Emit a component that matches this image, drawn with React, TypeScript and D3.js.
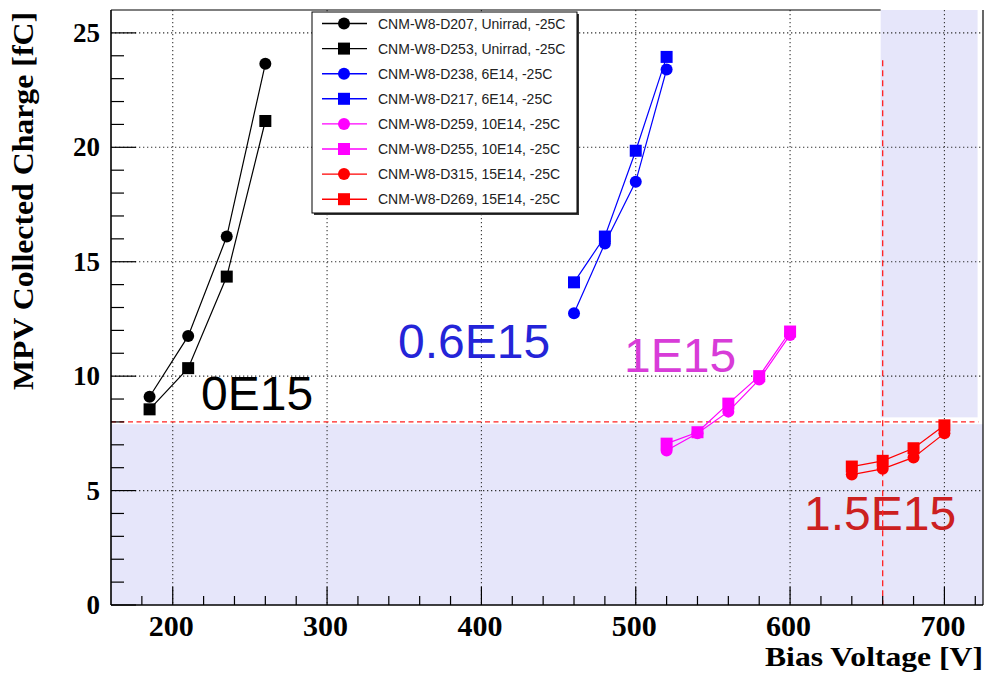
import React from "react";
import * as d3 from "d3";

// Bias voltage points (V) for each fluence group
const voltsUnirrad = [185, 210, 235, 260];
const volts6E14 = [460, 480, 500, 520];
const volts10E14 = [520, 540, 560, 580, 600];
const volts15E14 = [640, 660, 680, 700];

// MPV collected charge (fC) per sensor
const chargeD207 = [9.1, 11.75, 16.1, 23.65];
const chargeD253 = [8.55, 10.35, 14.35, 21.15];
const chargeD238 = [12.75, 15.8, 18.5, 23.4];
const chargeD217 = [14.1, 16.1, 19.85, 23.95];
const chargeD259 = [6.75, 7.5, 8.45, 9.85, 11.8];
const chargeD255 = [7.05, 7.55, 8.8, 10.0, 11.95];
const chargeD315 = [5.7, 5.95, 6.45, 7.5];
const chargeD269 = [6.05, 6.3, 6.85, 7.85];

const legendNames = [
  "CNM-W8-D207, Unirrad, -25C",
  "CNM-W8-D253, Unirrad, -25C",
  "CNM-W8-D238, 6E14, -25C",
  "CNM-W8-D217, 6E14, -25C",
  "CNM-W8-D259, 10E14, -25C",
  "CNM-W8-D255, 10E14, -25C",
  "CNM-W8-D315, 15E14, -25C",
  "CNM-W8-D269, 15E14, -25C",
];

const xTicks = [200, 300, 400, 500, 600, 700];
const yTicks = [0, 5, 10, 15, 20, 25];

// Thresholds: 8 fC charge requirement and 660 V bias limit
const chargeThreshold = 8;
const voltageLimit = 660;

// Fluence labels placed in data coordinates (V, fC) at their baseline start
const fluenceLabels = [
  { text: "0E15", v: 218.3, q: 8.52, color: "#000000" },
  { text: "0.6E15", v: 346, q: 10.8, color: "#2424d8" },
  { text: "1E15", v: 492.4, q: 10.18, color: "#d83cd8" },
  { text: "1.5E15", v: 609, q: 3.28, color: "#cc2020" },
];

type Series = {
  name: string;
  xs: number[];
  ys: number[];
  color: string;
  marker: "circle" | "square";
};

const series: Series[] = [
  { name: legendNames[0], xs: voltsUnirrad, ys: chargeD207, color: "#000000", marker: "circle" },
  { name: legendNames[1], xs: voltsUnirrad, ys: chargeD253, color: "#000000", marker: "square" },
  { name: legendNames[2], xs: volts6E14, ys: chargeD238, color: "#0000ff", marker: "circle" },
  { name: legendNames[3], xs: volts6E14, ys: chargeD217, color: "#0000ff", marker: "square" },
  { name: legendNames[4], xs: volts10E14, ys: chargeD259, color: "#ff00ff", marker: "circle" },
  { name: legendNames[5], xs: volts10E14, ys: chargeD255, color: "#ff00ff", marker: "square" },
  { name: legendNames[6], xs: volts15E14, ys: chargeD315, color: "#ff0000", marker: "circle" },
  { name: legendNames[7], xs: volts15E14, ys: chargeD269, color: "#ff0000", marker: "square" },
];

const W = 986;
const H = 675;
const L = 111;
const R = 983;
const T = 10;
const B = 605;

const x = d3.scaleLinear().domain([160, 725]).range([L, R]);
const y = d3.scaleLinear().domain([0, 26]).range([B, T]);

const serif = "'Liberation Serif', 'Times New Roman', serif";
const sans = "'Liberation Sans', Arial, Helvetica, sans-serif";
const shade = "#e6e6fa";

function Marker({ cx, cy, kind, color }: { cx: number; cy: number; kind: string; color: string }) {
  if (kind === "circle") return <circle cx={cx} cy={cy} r={6} fill={color} />;
  return <rect x={cx - 6} y={cy - 6} width={12} height={12} fill={color} />;
}

export default function App() {
  const line = d3
    .line<[number, number]>()
    .x((d) => x(d[0]))
    .y((d) => y(d[1]));

  const minorX = d3.range(180, 725, 20).filter((v) => v % 100 !== 0);
  const minorY = d3.range(1, 26, 1).filter((v) => v % 5 !== 0);

  const legX = 312;
  const legY = 12;
  const legW = 265;
  const legH = 201;
  const rowH = 25.1;

  return (
    <svg
      width={W}
      height={H}
      viewBox={`0 0 ${W} ${H}`}
      style={{ position: "absolute", left: 0, top: 0, background: "#fff" }}
    >
      <rect x={0} y={0} width={W} height={H} fill="#fff" />

      {/* excluded regions */}
      <rect x={L} y={y(7.9)} width={R - L} height={B - y(7.9)} fill={shade} />
      <rect
        x={x(voltageLimit) - 2}
        y={T}
        width={x(721.5) - x(voltageLimit) + 2}
        height={y(8.2) - T}
        fill={shade}
      />

      {/* grid */}
      <g stroke="#333" strokeWidth={1.1} strokeDasharray="1.3 2.7">
        {xTicks.map((v) => (
          <line key={"gx" + v} x1={x(v)} x2={x(v)} y1={T} y2={B} />
        ))}
        {yTicks
          .filter((v) => v > 0)
          .map((v) => (
            <line key={"gy" + v} x1={L} x2={R} y1={y(v)} y2={y(v)} />
          ))}
      </g>

      {/* fluence annotations */}
      {fluenceLabels.map((l) => (
        <text
          key={l.text}
          x={x(l.v)}
          y={y(l.q)}
          fill={l.color}
          fontFamily={sans}
          fontSize={48}
        >
          {l.text}
        </text>
      ))}

      {/* threshold lines */}
      <line
        x1={L}
        x2={x(722)}
        y1={y(chargeThreshold)}
        y2={y(chargeThreshold)}
        stroke="#ff2020"
        strokeWidth={1.3}
        strokeDasharray="5 3.5"
      />
      <line
        x1={x(voltageLimit)}
        x2={x(voltageLimit)}
        y1={y(23.8)}
        y2={B}
        stroke="#ff2020"
        strokeWidth={1.3}
        strokeDasharray="6 4"
      />

      {/* frame and axes */}
      <g stroke="#000" fill="none">
        <line x1={L} x2={x(voltageLimit) - 2} y1={T} y2={T} strokeWidth={1.2} />
        <line x1={R} x2={R} y1={T} y2={B} strokeWidth={1.2} />
        <line x1={L} x2={R} y1={B} y2={B} strokeWidth={1.6} />
        <line x1={L} x2={L} y1={T} y2={B} strokeWidth={1.6} />
        {xTicks.map((v) => (
          <line key={"tx" + v} x1={x(v)} x2={x(v)} y1={B} y2={B - 18} strokeWidth={1.2} />
        ))}
        {minorX.map((v) => (
          <line key={"mx" + v} x1={x(v)} x2={x(v)} y1={B} y2={B - 9} strokeWidth={1.2} />
        ))}
        {yTicks.map((v) => (
          <line key={"ty" + v} x1={L} x2={L + 25} y1={y(v)} y2={y(v)} strokeWidth={1.2} />
        ))}
        {minorY.map((v) => (
          <line key={"my" + v} x1={L} x2={L + 13} y1={y(v)} y2={y(v)} strokeWidth={1.2} />
        ))}
      </g>

      {/* tick labels */}
      <g fontFamily={serif} fontWeight="bold" fill="#000">
        {xTicks.map((v) => (
          <text key={"lx" + v} x={x(v) - 1.5} y={636} fontSize={30} textAnchor="middle">
            {v}
          </text>
        ))}
        {yTicks.map((v) => (
          <text key={"ly" + v} x={100} y={y(v) + 9} fontSize={27} textAnchor="end">
            {v}
          </text>
        ))}
        <text
          x={983}
          y={666}
          fontSize={28}
          textAnchor="end"
          textLength={218}
          lengthAdjust="spacingAndGlyphs"
        >
          Bias Voltage [V]
        </text>
        <text
          transform={`translate(33, 201) rotate(-90)`}
          fontSize={30}
          textAnchor="middle"
          textLength={378}
          lengthAdjust="spacingAndGlyphs"
        >
          MPV Collected Charge [fC]
        </text>
      </g>

      {/* data */}
      {series.map((s) => {
        const pts = s.xs.map((v, i) => [v, s.ys[i]] as [number, number]);
        return (
          <g key={s.name}>
            <path d={line(pts) || ""} fill="none" stroke={s.color} strokeWidth={1.2} />
            {pts.map((p, i) => (
              <Marker key={i} cx={x(p[0])} cy={y(p[1])} kind={s.marker} color={s.color} />
            ))}
          </g>
        );
      })}

      {/* legend */}
      <rect x={legX + 2} y={legY + 2} width={legW} height={legH} fill="#333" />
      <rect x={legX} y={legY} width={legW} height={legH} fill="#fff" stroke="#000" strokeWidth={1} />
      {series.map((s, i) => {
        const cy = legY + 11.5 + i * rowH;
        return (
          <g key={"leg" + s.name}>
            <line x1={legX + 10} x2={legX + 55} y1={cy} y2={cy} stroke={s.color} strokeWidth={1.4} />
            <Marker cx={legX + 32} cy={cy} kind={s.marker} color={s.color} />
            <text x={legX + 66} y={cy + 5} fontFamily={sans} fontSize={14} fill="#222">
              {s.name}
            </text>
          </g>
        );
      })}
    </svg>
  );
}
